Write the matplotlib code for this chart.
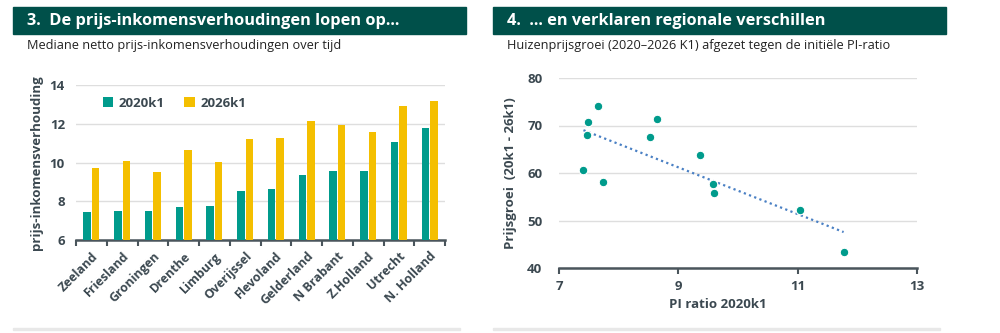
import numpy as np
import matplotlib.pyplot as plt
from matplotlib.patches import Rectangle

plt.rcParams['font.family'] = ['Open Sans', 'DejaVu Sans']

# data
provinces = ['Zeeland', 'Friesland', 'Groningen', 'Drenthe', 'Limburg', 'Overijssel',
             'Flevoland', 'Gelderland', 'N Brabant', 'Z.Holland', 'Utrecht', 'N. Holland']
pi_2020 = [7.45, 7.48, 7.52, 7.68, 7.74, 8.53, 8.65, 9.38, 9.58, 9.58, 11.04, 11.76]
pi_2026 = [9.70, 10.07, 9.49, 10.64, 10.01, 11.22, 11.28, 12.16, 11.92, 11.59, 12.92, 13.16]

scatter_x = [7.41, 7.47, 7.48, 7.66, 7.73, 8.53, 8.64, 9.36, 9.58, 9.60, 11.04, 11.77]
scatter_y = [60.6, 67.9, 70.7, 74.1, 58.1, 67.5, 71.3, 63.7, 57.7, 55.7, 52.2, 43.3]

teal = '#009b8c'
yellow = '#f4bf00'
header_bg = '#00504a'
txt = '#3b4850'
axis_col = '#4a555c'
grid_col = '#dedede'

W, H = 1000, 333
fig = plt.figure(figsize=(10, 3.33), dpi=100)

def px(x, y):
    return x / W, 1 - y / H

# headers and subtitles
for x0, title, sub in [(13, '3.  De prijs-inkomensverhoudingen lopen op...',
                        'Mediane netto prijs-inkomensverhoudingen over tijd'),
                       (493, '4.  ... en verklaren regionale verschillen',
                        'Huizenprijsgroei (2020\u20132026 K1) afgezet tegen de initiële PI-ratio')]:
    fig.patches.append(Rectangle(px(x0, 34), 453 / W, 27 / H, transform=fig.transFigure,
                                 color=header_bg, zorder=0))
    fig.text(*px(x0 + 14, 21), title, color='white', fontsize=11.8, fontweight='bold', va='center')
    fig.text(*px(x0 + 14, 46), sub, color='#222222', fontsize=9.2, va='center')
    # light separator at the bottom
    fig.patches.append(Rectangle(px(x0, 330), 447 / W, 2 / H, transform=fig.transFigure,
                                 color='#e8e8e8', zorder=0))

# left: bar chart
ax1 = fig.add_axes([0.076, 1 - 240 / H, 0.369, 155 / H])
xs = np.arange(len(provinces))
ax1.bar(xs - 0.14, pi_2020, width=0.24, color=teal, label='2020k1', zorder=3)
ax1.bar(xs + 0.14, pi_2026, width=0.24, color=yellow, label='2026k1', zorder=3)
ax1.set_ylim(6, 14)
ax1.set_xlim(-0.5, len(provinces) - 0.5)
ax1.set_yticks([6, 8, 10, 12, 14])
ax1.set_xticks(np.arange(len(provinces) + 1) - 0.5)
ax1.set_xticklabels([])
ax1.set_xticks(xs, minor=True)
ax1.set_xticklabels(provinces, minor=True, rotation=45, ha='right', rotation_mode='anchor',
                    fontsize=9, fontweight='bold', color=txt)
ax1.tick_params(axis='x', which='minor', length=0, pad=7)
ax1.tick_params(axis='x', which='major', length=4, width=1.5, color=axis_col, direction='out')
ax1.tick_params(axis='y', length=0, labelsize=9.5, labelcolor=txt, pad=8)
for lab in ax1.get_yticklabels():
    lab.set_fontweight('bold')
ax1.grid(axis='y', color=grid_col, linewidth=1, zorder=0)
for s in ['top', 'right', 'left']:
    ax1.spines[s].set_visible(False)
ax1.spines['bottom'].set_color(axis_col)
ax1.spines['bottom'].set_linewidth(1.8)
ax1.set_ylabel('prijs-inkomensverhouding', fontsize=9.5, fontweight='bold', color=txt,
               labelpad=5)
leg = ax1.legend(loc='upper left', bbox_to_anchor=(0.04, 1.0), ncol=2, frameon=False,
                 handlelength=0.8, handleheight=0.8, handletextpad=0.4, columnspacing=1.5,
                 prop={'size': 9.5, 'weight': 'bold'})
for t in leg.get_texts():
    t.set_color(txt)

# right: scatter with trend line
ax2 = fig.add_axes([0.559, 1 - 268 / H, 0.358, 190 / H])
ax2.scatter(scatter_x, scatter_y, s=38, color=teal, edgecolor='white', linewidth=0.8, zorder=4)
k, b = np.polyfit(scatter_x, scatter_y, 1)
xl = np.array([min(scatter_x), max(scatter_x)])
ax2.plot(xl, k * xl + b, linestyle=(0, (1, 1.5)), color='#4a80c4', linewidth=1.6, zorder=3)
ax2.set_xlim(7, 13)
ax2.set_ylim(40, 80)
ax2.set_xticks([7, 9, 11, 13])
ax2.set_yticks([40, 50, 60, 70, 80])
ax2.tick_params(axis='x', length=4, width=1.5, color=axis_col, labelsize=9.5, labelcolor=txt, pad=5)
ax2.tick_params(axis='y', length=0, labelsize=9.5, labelcolor=txt, pad=12)
for lab in ax2.get_xticklabels() + ax2.get_yticklabels():
    lab.set_fontweight('bold')
ax2.grid(axis='y', color=grid_col, linewidth=1, zorder=0)
for s in ['top', 'right', 'left']:
    ax2.spines[s].set_visible(False)
ax2.spines['bottom'].set_color(axis_col)
ax2.spines['bottom'].set_linewidth(1.8)
ax2.set_ylabel('Prijsgroei  (20k1 - 26k1)', fontsize=9.5, fontweight='bold', color=txt,
               labelpad=7)
fig.text(*px(718, 305), 'PI ratio 2020k1', fontsize=9.5, fontweight='bold', color=txt,
         ha='center', va='center')

fig.savefig('out.png', dpi=100)
